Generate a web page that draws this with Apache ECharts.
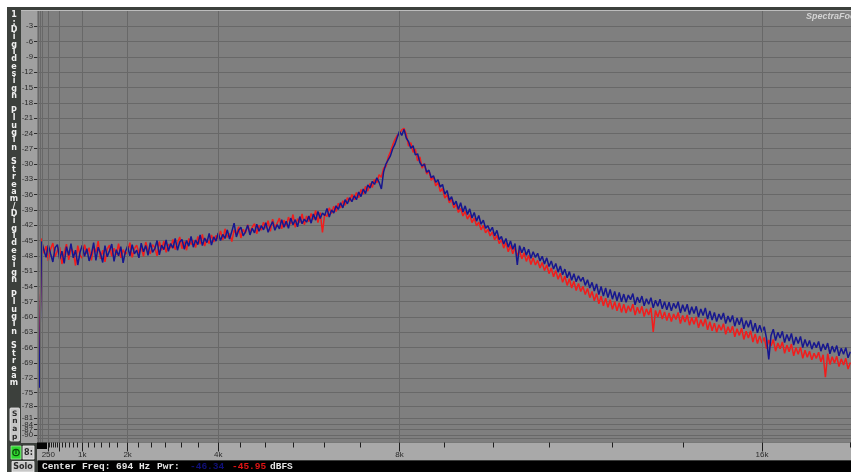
<!DOCTYPE html>
<html><head><meta charset="utf-8">
<script src="https://cdn.jsdelivr.net/npm/echarts@6/dist/echarts.min.js"></script>
<style>
html,body{margin:0;padding:0;background:#ffffff;}
#frame{position:absolute;left:7px;top:7px;width:844px;height:465px;background:#3c403c;}
#c{position:absolute;left:0;top:0;width:851px;height:472px;}
</style>
</head><body><div id="frame"></div><div id="c"></div>
<script>
// ---- data ----
const freqStart = 50;   // Hz of first point
const freqStep = 50;    // Hz between points
const blueDb = [
 -74.0,
 -45.2,-46.8,-48.3,-45.9,-47.6,-49.2,-46.4,-45.8,-48.7,-47.1,
 -49.5,-46.2,-47.9,-45.6,-48.4,-46.9,-49.8,-47.3,-45.9,-48.1,
 -46.6,-49.0,-47.7,-45.4,-48.9,-46.3,-47.5,-49.3,-46.0,-48.2,
 -47.0,-45.7,-49.1,-46.8,-48.0,-46.2,-49.4,-47.2,
 -46.1,-48.0,-45.8,-47.6,-46.9,-48.4,-45.5,-47.2,-46.0,-47.9,
 -45.4,-47.3,-46.6,-45.0,-47.8,-45.9,-46.8,-44.9,-47.1,-45.6,
 -46.5,-44.6,-46.9,-45.3,-44.8,-46.7,-45.0,-46.1,-44.2,-46.3,
 -44.9,-45.8,-43.9,-46.0,-44.5,-45.4,-43.6,-45.9,-44.3,-45.1,
 -43.5,-45.0,-43.8,-44.6,-42.9,-44.7,-43.2,-41.6,-44.3,-43.0,
 -42.4,-44.1,-43.3,-42.0,-43.9,-42.6,-43.5,-41.8,-43.2,-42.1,
 -42.9,-41.5,-43.4,-42.2,-41.3,-43.0,-41.9,-42.7,-40.9,-42.4,
 -41.2,-42.6,-40.6,-41.9,-40.9,-42.3,-40.3,-41.7,-40.8,-41.4,
 -40.2,-41.6,-39.8,-41.0,-39.3,-40.7,-39.6,-40.1,-38.7,-40.4,
 -39.0,-39.6,-38.2,-38.9,-37.6,-38.6,-37.0,-37.8,-36.6,-37.4,
 -36.2,-37.0,-35.5,-36.4,-34.9,-35.8,-34.1,-34.7,-33.4,-34.0,
 -32.7,-33.6,-34.9,-31.5,-30.0,-29.2,-28.4,-27.0,-26.1,-24.8,
 -23.6,-24.4,-23.2,-24.9,-25.6,-26.9,-26.4,-28.2,-28.0,-29.7,
 -30.4,-30.0,-31.6,-31.2,-32.7,-32.3,-33.6,-33.1,-34.5,-34.0,
 -35.9,-35.2,-37.1,-36.4,-38.0,-37.3,-38.9,-37.6,-39.4,-38.2,
 -39.9,-38.8,-40.6,-39.5,-41.2,-40.1,-41.8,-41.0,-42.6,-42.1,
 -43.2,-42.4,-44.1,-43.0,-44.8,-44.2,-45.7,-44.6,-46.3,-45.1,
 -46.7,-45.6,-49.8,-46.0,-47.4,-46.3,-47.9,-46.7,-48.5,-47.2,
 -48.3,-47.5,-49.0,-48.1,-49.6,-48.4,-50.1,-49.0,-50.6,-49.5,
 -51.2,-50.0,-51.7,-50.6,-52.3,-51.1,-52.8,-51.5,-53.1,-51.9,
 -53.0,-52.2,-53.8,-52.7,-54.3,-53.2,-54.9,-53.5,-55.6,-54.0,
 -55.9,-54.3,-56.2,-54.6,-56.5,-55.0,-56.8,-55.2,-57.0,-55.5,
 -57.1,-55.7,-56.6,-55.4,-57.6,-56.1,-57.2,-55.9,-57.8,-56.4,
 -57.5,-56.2,-58.2,-56.7,-57.9,-56.5,-58.4,-57.0,-58.6,-57.1,
 -58.8,-57.3,-58.3,-57.0,-59.2,-57.6,-58.9,-57.5,-59.5,-58.0,
 -59.3,-57.9,-60.0,-58.4,-59.7,-58.2,-60.4,-58.8,-60.6,-59.1,
 -60.9,-59.4,-60.5,-59.2,-61.3,-59.8,-61.0,-59.7,-61.8,-60.2,
 -61.5,-60.1,-62.3,-60.7,-62.0,-60.6,-62.8,-61.2,-63.1,-61.6,
 -63.0,-61.9,-64.2,-68.3,-63.6,-62.4,-64.6,-63.0,-64.1,-62.8,
 -65.0,-63.4,-64.7,-63.2,-65.5,-63.9,-65.2,-63.8,-66.0,-64.4,
 -65.8,-64.6,-66.3,-65.0,-66.0,-64.8,-66.7,-65.3,-66.4,-65.1,
 -67.2,-65.7,-66.9,-65.6,-67.6,-66.1,-67.3,-66.0,-68.0,-66.8
];
const redDb = [
 -71.0,
 -44.6,-47.5,-46.1,-49.0,-46.7,-45.5,-48.2,-47.0,-46.3,-49.6,
 -47.4,-45.7,-48.8,-46.5,-47.2,-49.9,-46.0,-47.9,-48.5,-45.8,
 -47.6,-46.4,-48.9,-46.2,-47.3,-45.1,-48.6,-46.9,-49.2,-46.7,
 -45.9,-48.1,-46.5,-47.8,-45.6,-48.4,-46.8,-47.7,
 -47.2,-45.4,-48.3,-46.6,-45.9,-47.5,-46.2,-48.1,-45.3,-46.9,
 -47.6,-45.8,-46.4,-48.0,-45.2,-46.9,-45.1,-47.3,-45.7,-46.5,
 -44.8,-46.8,-45.5,-44.3,-46.6,-45.2,-46.9,-44.6,-45.8,-44.9,
 -46.4,-44.2,-45.7,-43.8,-46.1,-44.7,-45.6,-43.9,-45.3,-44.0,
 -44.8,-43.1,-44.9,-42.7,-44.4,-43.6,-45.2,-42.9,-43.8,-42.3,
 -44.5,-42.8,-43.6,-41.9,-43.3,-42.4,-41.7,-43.7,-42.0,-43.0,
 -41.4,-42.6,-41.1,-43.2,-40.8,-42.5,-41.6,-40.6,-42.7,-41.0,
 -42.2,-40.4,-41.8,-39.9,-42.4,-40.7,-41.5,-39.8,-41.9,-40.2,
 -41.3,-39.7,-40.9,-39.1,-41.5,-39.5,-43.4,-39.8,-40.3,-38.6,
 -39.7,-38.3,-39.3,-37.7,-38.6,-37.2,-38.1,-36.6,-37.3,-36.0,
 -37.0,-35.6,-36.6,-35.0,-35.9,-34.4,-35.3,-33.8,-34.6,-33.0,
 -33.7,-32.1,-32.6,-30.8,-30.5,-28.7,-27.6,-26.3,-25.2,-24.4,
 -24.1,-23.3,-23.0,-24.2,-26.5,-25.8,-27.7,-27.1,-29.4,-28.6,
 -30.8,-29.9,-32.0,-31.3,-33.2,-32.5,-34.3,-33.6,-35.4,-34.8,
 -36.7,-36.0,-37.6,-36.9,-38.6,-37.9,-39.5,-38.7,-40.2,-39.3,
 -40.8,-39.9,-41.5,-40.6,-42.1,-41.4,-42.9,-42.0,-43.5,-42.8,
 -44.1,-43.3,-44.9,-44.0,-45.6,-44.8,-46.5,-45.4,-47.2,-46.0,
 -47.6,-46.4,-48.0,-46.9,-48.6,-47.4,-49.1,-47.9,-49.7,-48.4,
 -49.8,-48.9,-50.4,-49.3,-50.9,-49.8,-51.5,-50.4,-52.1,-50.9,
 -52.6,-51.4,-53.2,-52.0,-53.8,-52.5,-54.3,-53.0,-54.8,-53.4,
 -55.0,-54.0,-55.6,-54.4,-56.2,-55.0,-56.8,-55.4,-57.4,-55.9,
 -57.8,-56.3,-58.1,-56.6,-58.5,-57.0,-58.8,-57.2,-59.1,-57.5,
 -59.2,-57.8,-58.9,-57.5,-59.6,-58.1,-59.3,-57.9,-59.9,-58.4,
 -59.6,-58.2,-62.9,-58.7,-60.0,-58.6,-60.4,-59.0,-60.7,-59.2,
 -60.9,-59.4,-60.5,-59.1,-61.3,-59.7,-61.0,-59.6,-61.6,-60.1,
 -61.4,-60.0,-62.1,-60.5,-61.8,-60.3,-62.5,-60.9,-62.7,-61.2,
 -63.0,-61.5,-62.6,-61.3,-63.4,-61.9,-63.1,-61.8,-63.9,-62.3,
 -63.6,-62.2,-64.4,-62.8,-64.1,-62.7,-64.9,-63.3,-65.2,-63.7,
 -65.1,-64.0,-66.2,-64.5,-65.7,-64.4,-66.7,-65.1,-66.2,-64.9,
 -67.1,-65.5,-66.8,-65.3,-67.6,-66.0,-67.3,-65.9,-68.1,-66.5,
 -67.9,-66.7,-68.4,-67.1,-68.1,-66.9,-68.8,-67.4,-71.8,-67.2,
 -69.3,-67.8,-69.0,-67.7,-69.7,-68.2,-69.4,-68.1,-70.2,-68.9
];
const yTickLabels = [-3,-6,-9,-12,-15,-18,-21,-24,-27,-30,-33,-36,-39,-42,-45,-48,-51,-54,-57,-60,-63,-66,-69,-72,-75,-78,-81,-84,-87,-90,-93];
const xLabelFreqs = [250,1000,2000,4000,8000,16000];
const xLabelTexts = ['250','1k','2k','4k','8k','16k'];
const octaveGridFreqs = [31.25,62.5,125,250,500,1000,2000,4000,8000,16000];
const octaveTickFreqs = [250,500,1000,2000,4000,8000,16000];
// display scale of the dB axis (compressed below -72 dB, as in the analyser)
const yScaleDb  = [0, -72, -75, -78, -81, -84, -87, -90, -93];
const yScalePos = [0, -72, -74.8, -77.4, -79.8, -81.1, -82.1, -83.1, -83.8];

const X_MAX = 17965;
const sixthOctaveTicks = [];
for (let k = 0; ; k++) { const f = 250 * Math.pow(2, k / 6); if (f > X_MAX) break; sixthOctaveTicks.push(f); }

function dbToAxis(db) {
  for (let i = 0; i < yScaleDb.length - 1; i++) {
    const a = yScaleDb[i], b = yScaleDb[i + 1];
    if (db <= a && db >= b) return yScalePos[i] + (db - a) / (b - a) * (yScalePos[i + 1] - yScalePos[i]);
  }
  return db > 0 ? db : yScalePos[yScalePos.length - 1];
}
const yTickPos = yTickLabels.map(dbToAxis);
function nearestIdx(list, v) {
  let bi = 0, bd = 1e9;
  list.forEach((p, i) => { const d = Math.abs(p - v); if (d < bd) { bd = d; bi = i; } });
  return bi;
}
const yLabel = v => String(yTickLabels[nearestIdx(yTickPos, v)]);
const xLabel = v => xLabelTexts[nearestIdx(xLabelFreqs, v)];
const toPts = arr => arr.map((db, i) => [freqStart + i * freqStep, dbToAxis(db)]);

const sideText = '1:Digidesign Plugin Stream/Digidesign Plugin Stream'.split('').join('\n');
const mono = '"Liberation Mono", "DejaVu Sans Mono", monospace';

const chart = echarts.init(document.getElementById('c'), null, {renderer: 'canvas'});
chart.setOption({
  animation: false,
  backgroundColor: 'transparent',
  grid: { left: 37, right: 0, top: 11, bottom: 29.5, show: true, backgroundColor: '#7f7f7f', borderWidth: 0, containLabel: false, outerBoundsMode: 'none' },
  xAxis: [
    { type: 'value', min: 0, max: X_MAX, position: 'bottom',
      axisLine: { show: false, onZero: false },
      axisTick: { show: true, length: 5, customValues: sixthOctaveTicks, lineStyle: { color: '#1e1e1e', width: 1 } },
      axisLabel: { show: true, customValues: xLabelFreqs, formatter: xLabel, margin: 8, color: '#2a2a2a', fontSize: 8, fontFamily: '"Liberation Sans", Arial, sans-serif' },
      splitLine: { show: false } },
    { type: 'value', min: 0, max: X_MAX, position: 'bottom',
      axisLine: { show: false, onZero: false },
      axisTick: { show: true, length: 9, customValues: octaveTickFreqs, lineStyle: { color: '#1e1e1e', width: 1 } },
      axisLabel: { show: false },
      splitLine: { show: false } }
  ],
  yAxis: {
    type: 'value', min: -84.6, max: 0,
    axisLine: { show: false },
    axisTick: { show: true, length: 3, customValues: yTickPos, lineStyle: { color: '#2a2a2a' } },
    axisLabel: { show: true, customValues: yTickPos, formatter: yLabel, margin: 4, color: '#2a2a2a', fontSize: 7.8, fontFamily: '"Liberation Sans", Arial, sans-serif' },
    splitLine: { show: true, lineStyle: { color: '#686868', width: 1 } }
  },
  series: [
    { name: 'grid', type: 'line', data: [], z: 1, silent: true,
      markLine: { silent: true, symbol: ['none', 'none'], label: { show: false }, animation: false,
        lineStyle: { color: '#686868', width: 1, type: 'solid' },
        emphasis: { disabled: true },
        data: octaveGridFreqs.map(f => ({ xAxis: f })) } },
    { name: 'R', type: 'line', data: toPts(redDb), showSymbol: false, symbol: 'none',
      lineStyle: { color: '#f21c1c', width: 1.5 }, z: 3 },
    { name: 'L', type: 'line', data: toPts(blueDb), showSymbol: false, symbol: 'none',
      lineStyle: { color: '#17178f', width: 1.5 }, z: 4 }
  ],
  graphic: [
    { type: 'rect', shape: { x: 21, y: 11, width: 16, height: 432 }, style: { fill: '#a0a0a0' }, z: -10, silent: true },
    { type: 'rect', shape: { x: 21, y: 10, width: 830, height: 1 }, style: { fill: '#bdbdbd' }, z: 10, silent: true },
    { type: 'rect', shape: { x: 37, y: 442.5, width: 814, height: 18 }, style: { fill: '#a9a9a9' }, z: -10, silent: true },
    { type: 'rect', shape: { x: 37, y: 442.5, width: 10, height: 6.5 }, style: { fill: '#050505' }, z: 10, silent: true },
    { type: 'rect', shape: { x: 38, y: 460.5, width: 813, height: 11.5 }, style: { fill: '#000000' }, z: -10, silent: true },
    { type: 'text', style: { x: 42, y: 466.5, text: 'Center Freq: 694 Hz', font: 'bold 9.5px ' + mono, fill: '#e6e6e6', textVerticalAlign: 'middle' }, z: 10, silent: true },
    { type: 'text', style: { x: 157, y: 466.5, text: 'Pwr:', font: 'bold 9.5px ' + mono, fill: '#e6e6e6', textVerticalAlign: 'middle' }, z: 10, silent: true },
    { type: 'text', style: { x: 190, y: 466.5, text: '-46.34', font: 'bold 9.5px ' + mono, fill: '#10107a', textVerticalAlign: 'middle' }, z: 10, silent: true },
    { type: 'text', style: { x: 232, y: 466.5, text: '-45.95', font: 'bold 9.5px ' + mono, fill: '#e21414', textVerticalAlign: 'middle' }, z: 10, silent: true },
    { type: 'text', style: { x: 270, y: 466.5, text: 'dBFS', font: 'bold 9.5px ' + mono, fill: '#e6e6e6', textVerticalAlign: 'middle' }, z: 10, silent: true },
    { type: 'text', style: { x: 14, y: 11.5, text: sideText, font: 'bold 8px "DejaVu Sans", sans-serif', fill: '#f0f0f0', textAlign: 'center', textVerticalAlign: 'top', lineHeight: 7.36 }, z: 10, silent: true },
    { type: 'rect', shape: { x: 10, y: 408, width: 9.5, height: 33, r: 1 }, style: { fill: '#c6c6c6', stroke: '#e8e8e8', lineWidth: 0.8 }, z: 10, silent: true },
    { type: 'text', style: { x: 14.8, y: 410, text: 'S\nn\na\np', font: 'bold 7.5px "DejaVu Sans", sans-serif', fill: '#2a2a2a', textAlign: 'center', textVerticalAlign: 'top', lineHeight: 7.6 }, z: 11, silent: true },
    { type: 'rect', shape: { x: 11, y: 446, width: 10, height: 13 }, style: { fill: '#2fd62f', stroke: '#9cf09c', lineWidth: 0.8 }, z: 10, silent: true },
    { type: 'circle', shape: { cx: 16, cy: 452.5, r: 3.2 }, style: { fill: 'none', stroke: '#0b4a0b', lineWidth: 1.2 }, z: 11, silent: true },
    { type: 'rect', shape: { x: 15.4, y: 449, width: 1.2, height: 5 }, style: { fill: '#0b4a0b' }, z: 11, silent: true },
    { type: 'rect', shape: { x: 23, y: 446, width: 11, height: 13 }, style: { fill: '#c8c8c8', stroke: '#eeeeee', lineWidth: 0.8 }, z: 10, silent: true },
    { type: 'text', style: { x: 28.5, y: 452.5, text: '8:', font: 'bold 8px "DejaVu Sans", sans-serif', fill: '#2a2a2a', textAlign: 'center', textVerticalAlign: 'middle' }, z: 11, silent: true },
    { type: 'rect', shape: { x: 12, y: 461.5, width: 22, height: 10.5 }, style: { fill: '#c8c8c8', stroke: '#eeeeee', lineWidth: 0.8 }, z: 10, silent: true },
    { type: 'text', style: { x: 23, y: 467, text: 'Solo', font: 'bold 8px "DejaVu Sans", sans-serif', fill: '#2a2a2a', textAlign: 'center', textVerticalAlign: 'middle' }, z: 11, silent: true },
    { type: 'text', style: { x: 806, y: 16.5, text: 'SpectraFoo', font: 'italic bold 9px "Liberation Sans", Arial, sans-serif', fill: '#d4d4d4', textVerticalAlign: 'middle' }, z: 10, silent: true }
  ]
});
</script>
</body></html>
